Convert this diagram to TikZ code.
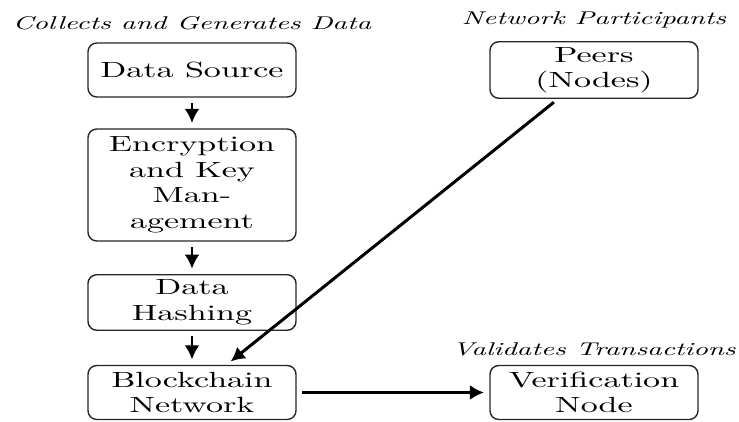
\documentclass[tikz,border=0pt]{standalone}
\usepackage{fontspec}
\setmainfont{lmroman10-regular.otf}[ItalicFont=lmroman10-italic.otf, FakeStretch=1.55]
\usetikzlibrary{arrows.meta, positioning}
\tikzstyle{block} = [rectangle, rounded corners=5pt, draw=black!85, line width=0.8pt, minimum width=4.16cm, minimum height=1.08cm, inner sep=3pt, align=center, font=\fontsize{12.5}{14.5}\selectfont]
\tikzstyle{tag} = [font=\fontsize{10.5}{12}\selectfont\itshape]
\tikzstyle{arrow} = [line width=1.7pt, -{Latex[length=8pt, width=8.5pt]}, shorten <=3pt, shorten >=3pt]

\begin{document}
\begin{tikzpicture}
\useasboundingbox (0,0) rectangle (14.78,8.44);

% Data pipeline (left column)
\node[block] (source) at (3.84,7.04) {Data Source};
\node[block, minimum height=2.24cm] (encrypt) at (3.84,4.74) {Encryption\\and Key\\Man-\\agement};
\node[block] (hashing) at (3.84,2.39) {Data\\Hashing};
\node[block] (chain) at (3.84,0.59) {Blockchain\\Network};

% Peers and verification (right column)
\node[block] (peers) at (11.88,7.04) {Peers\\(Nodes)};
\node[block] (verify) at (11.88,0.59) {Verification\\Node};

% Annotations
\node[tag, above=0.13cm of source] (source_tag) {Collects and Generates Data};
\node[tag, above=0.13cm of peers] (peers_tag) {Network Participants};
\node[tag, above=0.06cm of verify] (verify_tag) {Validates Transactions};

% Flow
\draw[arrow] (source) -- (encrypt);
\draw[arrow] (encrypt) -- (hashing);
\draw[arrow] (hashing) -- (chain);
\draw[arrow] (peers) -- (chain);
\draw[arrow] (chain) -- (verify);

\end{tikzpicture}
\end{document}
